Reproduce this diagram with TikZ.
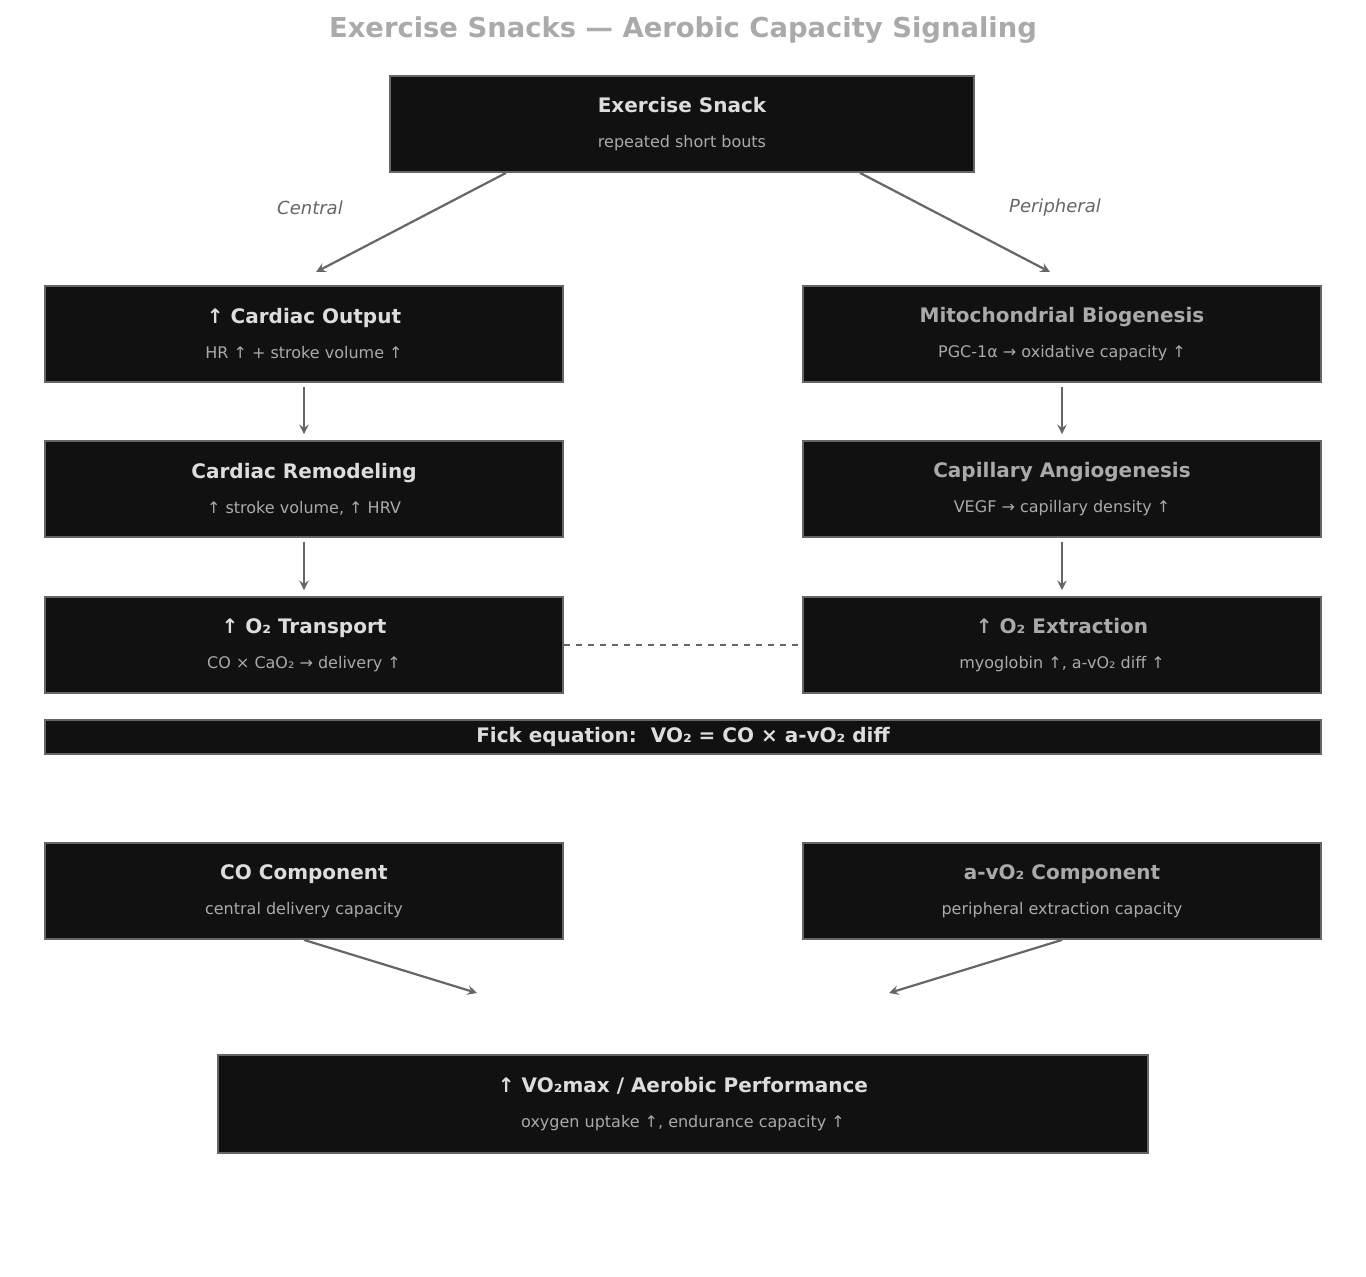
\documentclass[tikz,border=0pt]{standalone}
\usepackage{fontspec}
\setmainfont{DejaVu Sans}
\usetikzlibrary{positioning}
\definecolor{boxfill}{HTML}{111111}
\definecolor{boxline}{HTML}{666666}
\definecolor{headtext}{HTML}{DDDDDD}
\definecolor{subtext}{HTML}{AAAAAA}
\newcommand{\twoline}[2]{\rule{0pt}{6pt}{\fontsize{10}{11}\selectfont\bfseries #1}\\[5.5pt]{\fontsize{8}{9}\selectfont\color{subtext}#2}}
\tikzset{
  box/.style={draw=boxline, line width=0.9pt, fill=boxfill, text=headtext, align=center, minimum width=259pt, minimum height=48pt, inner sep=0pt},
  dimhead/.style={text=subtext},
  flow/.style={->, >=stealth, draw=boxline, line width=1.1pt},
  branch/.style={font=\fontsize{9}{10}\selectfont\itshape, text=boxline}
}
\begin{document}
\begin{tikzpicture}[x=0.5pt, y=-0.5pt]
\useasboundingbox (0,0) rectangle (1366,1276);
\node[font=\fontsize{13.7}{15}\selectfont\bfseries, text=subtext] (title) at (683,30) {Exercise Snacks — Aerobic Capacity Signaling};

\node[box, minimum width=292pt] (snack) at (682,124) {\twoline{Exercise Snack}{repeated short bouts}};

% central side
\node[box] (cardiac) at (304,334) {\twoline{↑ Cardiac Output}{HR ↑ + stroke volume ↑}};
\node[box] (remodel) at (304,489) {\twoline{Cardiac Remodeling}{↑ stroke volume, ↑ HRV}};
\node[box] (transport) at (304,645) {\twoline{↑ O₂ Transport}{CO × CaO₂ → delivery ↑}};

% peripheral side
\node[box, dimhead] (mito) at (1062,334) {\twoline{Mitochondrial Biogenesis}{PGC-1α → oxidative capacity ↑}};
\node[box, dimhead] (capillary) at (1062,489) {\twoline{Capillary Angiogenesis}{VEGF → capillary density ↑}};
\node[box, dimhead] (extract) at (1062,645) {\twoline{↑ O₂ Extraction}{myoglobin ↑, a-vO₂ diff ↑}};

\node[box, minimum width=638pt, minimum height=17pt, font=\fontsize{10}{11}\selectfont\bfseries] (fick) at (683,737) {Fick equation:\ \ VO₂ = CO × a-vO₂ diff};

\node[box] (cocomp) at (304,891) {\twoline{CO Component}{central delivery capacity}};
\node[box, dimhead] (avcomp) at (1062,891) {\twoline{a-vO₂ Component}{peripheral extraction capacity}};

\node[box, minimum width=465pt, minimum height=49pt] (vo2max) at (683,1104) {\twoline{↑ VO₂max / Aerobic Performance}{oxygen uptake ↑, endurance capacity ↑}};

\coordinate (centralEnd) at (316,272);
\coordinate (periphEnd) at (1050,272);
\coordinate (coEnd) at (477,993);
\coordinate (avEnd) at (889,993);

\draw[flow] (snack.south -| 506,0) -- (centralEnd);
\draw[flow] (snack.south -| 860,0) -- (periphEnd);
\node[branch] (central) at (310,208) {Central};
\node[branch] (periph) at (1055,208) {Peripheral};

\draw[flow] ([yshift=-2pt]cardiac.south) -- ([yshift=3pt]remodel.north);
\draw[flow] ([yshift=-2pt]remodel.south) -- ([yshift=3pt]transport.north);
\draw[flow] ([yshift=-2pt]mito.south) -- ([yshift=3pt]capillary.north);
\draw[flow] ([yshift=-2pt]capillary.south) -- ([yshift=3pt]extract.north);
\draw[dashed, draw=boxline, line width=0.8pt] (transport.east) -- (extract.west);

\draw[flow] (cocomp.south) -- (coEnd);
\draw[flow] (avcomp.south) -- (avEnd);
\end{tikzpicture}
\end{document}
